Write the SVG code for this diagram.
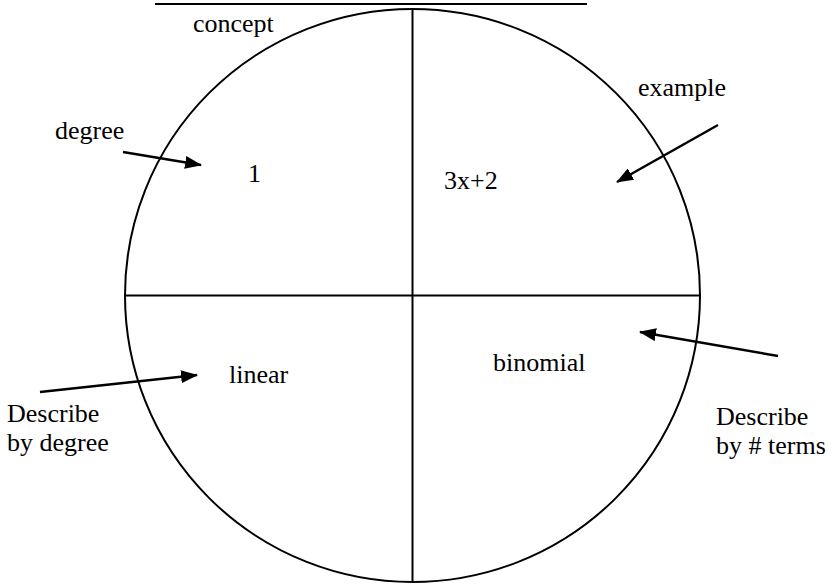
<svg xmlns="http://www.w3.org/2000/svg" width="832" height="586" viewBox="0 0 832 586">
<style>
.t{font-family:"Liberation Serif","Times New Roman","DejaVu Serif",serif;font-size:26px;fill:#000}
.ln{stroke:#000;stroke-width:2;fill:none}
.ar{stroke:#000;stroke-width:2.5;fill:none;marker-end:url(#ah)}
</style>
<defs>
<marker id="ah" markerWidth="17" markerHeight="13" refX="16" refY="6.5" orient="auto" markerUnits="userSpaceOnUse" viewBox="0 0 17 13">
<path d="M0,0 L17,6.5 L0,13 z" fill="#000"/>
</marker>
</defs>
<rect width="832" height="586" fill="#fff"/>
<g id="frame">
<line class="ln" x1="155" y1="4" x2="587" y2="4"/>
<ellipse class="ln" cx="412.5" cy="295.5" rx="287.5" ry="286.5"/>
<line class="ln" x1="412.5" y1="8" x2="412.5" y2="582"/>
<line class="ln" x1="125" y1="295.5" x2="700" y2="295.5"/>
</g>
<g id="concept"><text class="t" x="193" y="32">concept</text></g>
<g id="q1"><text class="t" x="248" y="182">1</text></g>
<g id="q2"><text class="t" x="444" y="189">3x+2</text></g>
<g id="q3"><text class="t" x="229" y="383">linear</text></g>
<g id="q4"><text class="t" x="493" y="371">binomial</text></g>
<g id="degree"><text class="t" x="55" y="139">degree</text></g>
<g id="example"><text class="t" x="638" y="96">example</text></g>
<g id="descDegree"><text class="t" x="7" y="422">Describe</text><text class="t" x="7" y="451">by degree</text></g>
<g id="descTerms"><text class="t" x="716" y="425">Describe</text><text class="t" x="716" y="454">by # terms</text></g>
<g id="connectors">
<line class="ar" x1="123" y1="152" x2="201" y2="165"/>
<line class="ar" x1="718" y1="125" x2="617" y2="182"/>
<line class="ar" x1="40" y1="392" x2="197" y2="375"/>
<line class="ar" x1="778" y1="356" x2="640" y2="332"/>
</g>
</svg>
